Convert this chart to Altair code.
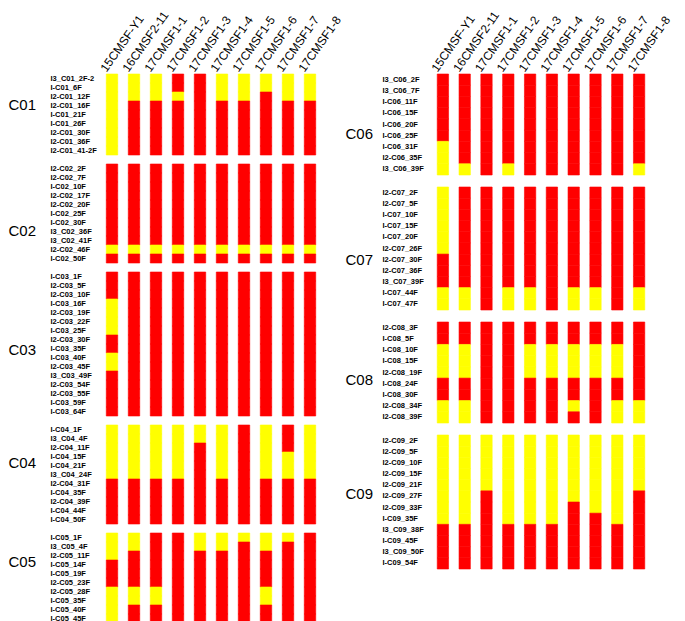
import altair as alt
import pandas as pd

COLS = ["15CMSF-Y1", "16CMSF2-11", "17CMSF1-1", "17CMSF1-2", "17CMSF1-3",
        "17CMSF1-4", "17CMSF1-5", "17CMSF1-6", "17CMSF1-7", "17CMSF1-8"]

# ---- C01 ----
C01_rows = ["I3_C01_2F-2", "I-C01_6F", "I2-C01_12F", "I2-C01_16F", "I-C01_21F",
            "I-C01_26F", "I2-C01_30F", "I2-C01_36F", "I2-C01_41-2F"]
C01_calls = ["YYYYYYYYY", "YYYRRRRRR", "YYYRRRRRR", "RRYRRRRRR", "RRRRRRRRR",
             "YYYRRRRRR", "YYYRRRRRR", "YYRRRRRRR", "YYYRRRRRR", "YYYRRRRRR"]

# ---- C02 ----
C02_rows = ["I2-C02_2F", "I2-C02_7F", "I-C02_10F", "I2-C02_17F", "I2-C02_20F",
            "I-C02_25F", "I-C02_30F", "I3_C02_36F", "I3_C02_41F", "I2-C02_46F", "I-C02_50F"]
C02_calls = ["RRRRRRRRRYR"] * 10

# ---- C03 ----
C03_rows = ["I-C03_1F", "I2-C03_5F", "I2-C03_10F", "I-C03_16F", "I2-C03_19F",
            "I2-C03_22F", "I-C03_25F", "I2-C03_30F", "I-C03_35F", "I-C03_40F",
            "I2-C03_45F", "I3_C03_49F", "I2-C03_54F", "I2-C03_55F", "I-C03_59F", "I-C03_64F"]
C03_calls = ["RRRYYYYRRYYRRRRR"] + ["RRRRRRRRRRRRRRRR"] * 9

# ---- C04 ----
C04_rows = ["I-C04_1F", "I3_C04_4F", "I2-C04_11F", "I-C04_15F", "I-C04_21F",
            "I3_C04_24F", "I2-C04_31F", "I-C04_35F", "I2-C04_39F", "I-C04_44F", "I-C04_50F"]
C04_calls = ["YYYYYYRRRRR", "YYYYYYRRRRR", "YYYYYYRRRRR", "YYYYYYRRRRR", "YYRRRRRRRRR",
             "YYYYYYRRRRR", "RRRRRRRRRRR", "YYYYYYRRRRR", "RRRYYYRRRRR", "YYYYYYRRRRR"]

# ---- C05 ----
C05_rows = ["I-C05_1F", "I3_C05_4F", "I2-C05_11F", "I-C05_14F", "I-C05_19F",
            "I2-C05_23F", "I2-C05_28F", "I-C05_35F", "I-C05_40F", "I-C05_45F"]
C05_calls = ["YYYRRRYYYY", "YYRRRRYYRR", "RRRRRRYYRR", "RRRRRRRRRR", "YYRRRRRRRR",
             "YYRRRRRRRR", "YRRRRRRRRR", "YYRRRRYYRR", "YRRRRRRRRR", "RRRRRRRRRR"]

# ---- C06 ----
C06_rows = ["I3_C06_2F", "I3_C06_7F", "I-C06_11F", "I-C06_15F", "I-C06_20F",
            "I-C06_25F", "I-C06_31F", "I2-C06_35F", "I3_C06_39F"]
C06_calls = ["RRRRRRYYY", "RRRRRRRRY", "RRRRRRRRR", "RRRRRRRRY", "RRRRRRRRR",
             "RRRRRRRRR", "RRRRRRRRR", "RRRRRRRRR", "RRRRRRRRR", "RRRRRRRRY"]

# ---- C07 ----
C07_rows = ["I2-C07_2F", "I2-C07_5F", "I-C07_10F", "I-C07_15F", "I-C07_20F",
            "I2-C07_26F", "I2-C07_30F", "I2-C07_36F", "I3_C07_39F", "I-C07_44F", "I-C07_47F"]
C07_calls = ["YYYYYYRRRYY", "RRRRRRRRRYY", "RRRRRRRRRRR", "RRRRRRRRRYY", "RRRRRRRRRYY",
             "RRRRRRRRRRR", "RRRRRRRRRYY", "RRRRRRRRRYY", "RRRRRRRRRRR", "RRRRRRRRRYY"]

# ---- C08 ----
C08_rows = ["I2-C08_3F", "I-C08_5F", "I-C08_10F", "I-C08_15F", "I2-C08_19F",
            "I-C08_24F", "I-C08_30F", "I2-C08_34F", "I2-C08_39F"]
C08_calls = ["RRYYYRRYY", "RRYYYRRYY", "RRRRRRRRR", "RRRRRRRRR", "RRYYYRRRR",
             "RRYYYRRRR", "RRYYYRRYR", "RRYYYRRRR", "RRYYYRRYY", "RRRRRRRYY"]

# ---- C09 ----
C09_rows = ["I2-C09_2F", "I2-C09_5F", "I2-C09_10F", "I2-C09_15F", "I2-C09_21F",
            "I2-C09_27F", "I2-C09_33F", "I-C09_35F", "I3_C09_38F", "I-C09_45F",
            "I3_C09_50F", "I-C09_54F"]
C09_calls = ["YYYYYYYYRRRR", "YYYYYYYYRRRR", "YYYYYRRRRRRR", "YYYYYYYYRRRR", "YYYYYYYYRRRR",
             "YYYYYYYYRRRR", "YYYYYYRRRRRR", "YYYYYYYRRRRR", "YYYYYYYYRRRR", "YYYYYRRRRRRR"]

FONT = "Liberation Sans"
COLOR_SCALE = alt.Scale(domain=["R", "Y"], range=["#ff0000", "#ffff00"])


def panel(name, rows, calls, width, row_h, title_x, title_y, label_pad, header):
    recs = []
    for j, c in enumerate(COLS):
        for i, r in enumerate(rows):
            recs.append({"sample": r, "line": c, "v": calls[j][i]})
    df = pd.DataFrame(recs)
    if header:
        xaxis = alt.Axis(orient="top", title=None, labelAngle=305, labelAlign="left",
                         labelBaseline="bottom", labelPadding=0, labelOffset=-3,
                         ticks=False, tickSize=0, domain=False, labelFont=FONT,
                         labelFontSize=12, labelColor="black")
    else:
        xaxis = None
    yaxis = alt.Axis(title=name, titleAngle=0, titleAlign="left", titleBaseline="middle",
                     titleX=-title_x, titleY=title_y, titleFont=FONT, titleFontSize=15,
                     titleFontWeight="normal", titleColor="black",
                     labelAlign="left", labelPadding=label_pad, ticks=False, tickSize=0,
                     domain=False, labelFont=FONT, labelFontSize=7.5,
                     labelFontWeight="bold", labelColor="black")
    return alt.Chart(df).mark_rect(strokeWidth=0.6).encode(
        x=alt.X("line:N", sort=COLS, axis=xaxis,
                scale=alt.Scale(paddingInner=0.48, paddingOuter=0.24)),
        y=alt.Y("sample:N", sort=rows, axis=yaxis,
                scale=alt.Scale(paddingInner=0, paddingOuter=0)),
        color=alt.Color("v:N", scale=COLOR_SCALE, legend=None),
        stroke=alt.Color("v:N", scale=COLOR_SCALE, legend=None),
    ).properties(width=width, height=round(row_h * len(rows)))


LW, LH, LPAD, LTX = 220, 9.0, 51, 93
RW, RH, RPAD, RTX = 218, 11.2, 50, 87

left = alt.vconcat(
    panel("C01", C01_rows, C01_calls, LW, LH, LTX, 30, LPAD, True),
    panel("C02", C02_rows, C02_calls, LW, LH, LTX, 66, LPAD, False),
    panel("C03", C03_rows, C03_calls, LW, LH, LTX, 77, LPAD, False),
    panel("C04", C04_rows, C04_calls, LW, LH, LTX, 37, LPAD, False),
    panel("C05", C05_rows, C05_calls, LW, LH, LTX, 28, LPAD, False),
    spacing=9, bounds="flush",
).resolve_scale(x="independent", y="independent")

right = alt.vconcat(
    panel("C06", C06_rows, C06_calls, RW, RH, RTX, 59, RPAD, True),
    panel("C07", C07_rows, C07_calls, RW, RH, RTX, 72, RPAD, False),
    panel("C08", C08_rows, C08_calls, RW, RH, RTX, 57, RPAD, False),
    panel("C09", C09_rows, C09_calls, RW, RH, RTX, 58, RPAD, False),
    spacing=12, bounds="flush",
).resolve_scale(x="independent", y="independent")

chart = alt.hconcat(left, right, spacing=331, bounds="flush").resolve_scale(
    x="independent", y="independent"
).properties(padding=0).configure_view(stroke=None)

chart.save("out.html", embed_options={"renderer": "svg", "actions": False})
